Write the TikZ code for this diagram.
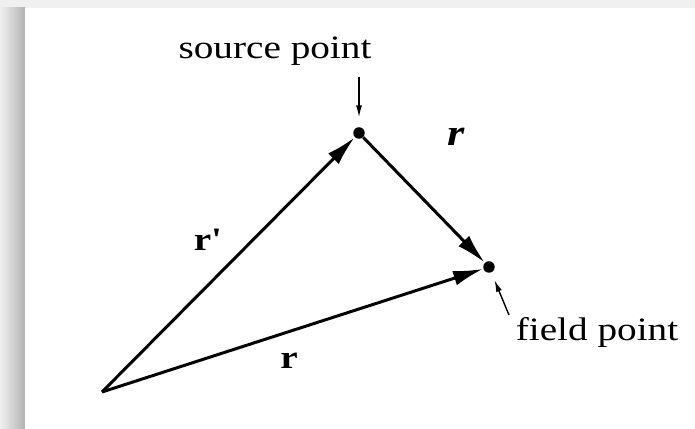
\documentclass[tikz,border=0pt]{standalone}
\usepackage{fontspec}
\setmainfont{Liberation Serif}[FakeStretch=1.2]
\usetikzlibrary{arrows.meta}

\begin{document}
\begin{tikzpicture}[every node/.style={font=\fontsize{18.6}{22}\selectfont}, vec/.style={line width=1.7pt, -{Latex[length=6mm, width=3mm]}}, tick/.style={line width=0.8pt, -{Latex[length=2.4mm, width=1.2mm]}}, dot/.style={circle, fill, inner sep=0pt, minimum size=2.3mm}]
	\useasboundingbox (0,0) rectangle (13.9,-8.58);
	\fill[gray!12] (0,0) rectangle (13.9,-8.58);
	\shade[left color=gray!12, right color=gray!60] (0,-0.16) rectangle (0.5,-8.58);
	\fill[white] (0.5,-0.16) rectangle (13.9,-8.58);
	\coordinate (o) at (2.04,-7.84);
	\node[dot] (src) at (7.18,-2.66) {}; \node[dot] (fld) at (9.78,-5.34) {};
	\draw[vec] (o) -- (src);
	\draw[vec] (o) -- (fld);
	\draw[vec] (src) -- (fld);
	\node[anchor=base] (srclabel) at (5.5,-1.17) {source point};
	\node[anchor=base] (fldlabel) at (11.94,-6.82) {field point};
	\coordinate (srctail) at (7.18,-1.54); \coordinate (fldtail) at (10.18,-6.3);
	\draw[tick, shorten >=1.9mm] (srctail) -- (src);
	\draw[tick, shorten >=1.6mm] (fldtail) -- (fld);
	\node (rprime) at (4.14,-4.8) {\textbf{r\textquotesingle}};
	\node (rvec) at (5.78,-7.22) {\textbf{r}};
	\node (sep) at (9.12,-2.74) {\fontsize{21}{24}\selectfont\textbf{\textit{r}}};
\end{tikzpicture}
\end{document}
